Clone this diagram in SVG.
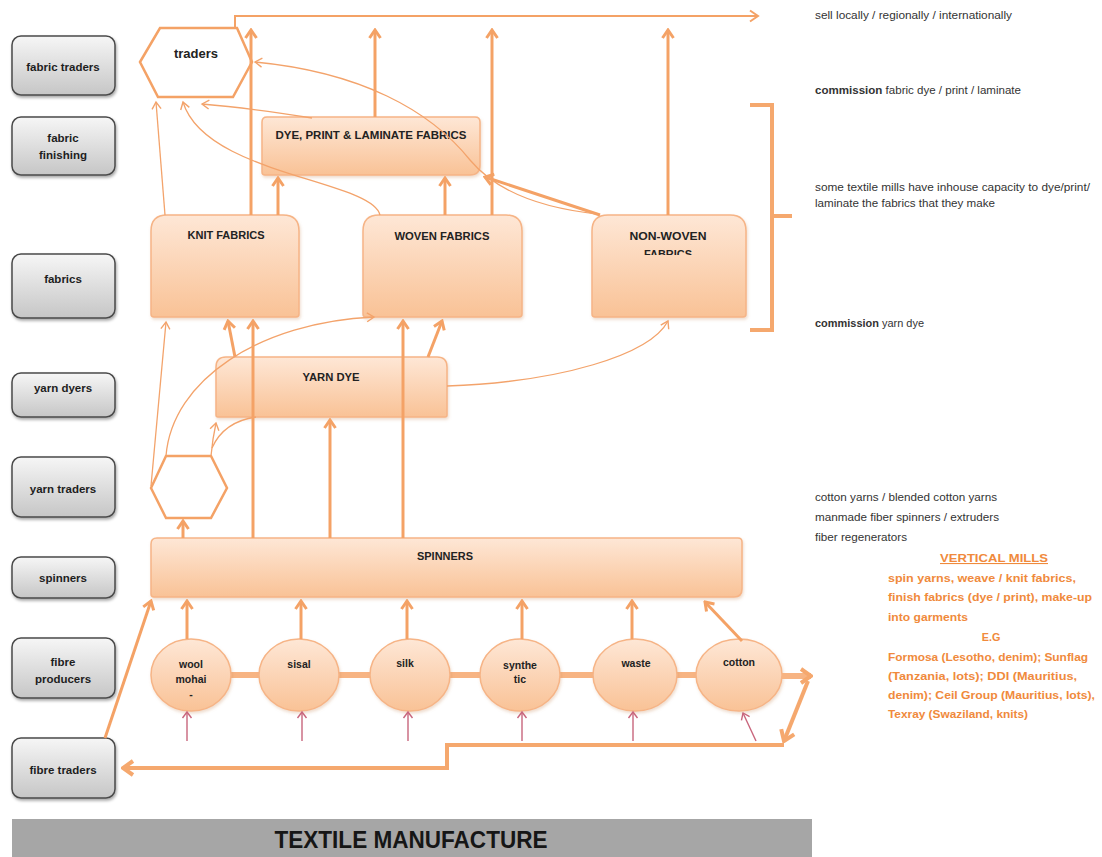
<svg xmlns="http://www.w3.org/2000/svg" width="1102" height="857" viewBox="0 0 1102 857">
  <defs>
    <linearGradient id="gGray" x1="0" y1="0" x2="0" y2="1">
      <stop offset="0" stop-color="#f6f6f6"/>
      <stop offset="1" stop-color="#c6c6c6"/>
    </linearGradient>
    <linearGradient id="gPeach" x1="0" y1="0" x2="0" y2="1">
      <stop offset="0" stop-color="#fee7d6"/>
      <stop offset="1" stop-color="#f9c296"/>
    </linearGradient>
    <filter id="shGray" x="-10%" y="-10%" width="125%" height="135%">
      <feDropShadow dx="1" dy="2" stdDeviation="1.5" flood-color="#000" flood-opacity="0.35"/>
    </filter>
    <filter id="shPeach" x="-10%" y="-10%" width="125%" height="135%">
      <feDropShadow dx="1" dy="2" stdDeviation="1.5" flood-color="#c98a5a" flood-opacity="0.3"/>
    </filter>
    <clipPath id="clipNW">
      <rect x="592" y="215" width="154" height="40"/>
    </clipPath>
    <marker id="ahThick" markerUnits="userSpaceOnUse" viewBox="-12 -8 14 16" refX="0" refY="0" markerWidth="14" markerHeight="16" orient="auto">
      <path d="M-8,-5.5 L0,0 L-8,5.5" fill="none" stroke="#f4a266" stroke-width="3"/>
    </marker>
    <marker id="ahThin" markerUnits="userSpaceOnUse" viewBox="-10 -6 12 12" refX="0" refY="0" markerWidth="12" markerHeight="12" orient="auto">
      <path d="M-7,-4.5 L0,0 L-7,4.5" fill="none" stroke="#f3a36b" stroke-width="1.4"/>
    </marker>
    <marker id="ahBig" markerUnits="userSpaceOnUse" viewBox="-14 -10 16 20" refX="0" refY="0" markerWidth="16" markerHeight="20" orient="auto">
      <path d="M-10,-7 L0,0 L-10,7" fill="none" stroke="#f5a86e" stroke-width="4"/>
    </marker>
    <marker id="ahTop" markerUnits="userSpaceOnUse" viewBox="-12 -8 14 16" refX="0" refY="0" markerWidth="14" markerHeight="16" orient="auto">
      <path d="M-8,-5.5 L0,0 L-8,5.5" fill="none" stroke="#f4a266" stroke-width="2"/>
    </marker>
    <marker id="ahPink" markerUnits="userSpaceOnUse" viewBox="-10 -6 12 12" refX="0" refY="0" markerWidth="12" markerHeight="12" orient="auto">
      <path d="M-6,-4.5 L0,0 L-6,4.5" fill="none" stroke="#c8657c" stroke-width="1.4"/>
    </marker>
  </defs>
  <style>
    text { font-family: "Liberation Sans", Arial, sans-serif; }
    .side rect { fill: url(#gGray); stroke: #4a4a4a; stroke-width: 1.5; filter: url(#shGray); }
    .side text { font-size: 11.5px; font-weight: bold; fill: #1e1e1e; text-anchor: middle; }
    .node { fill: url(#gPeach); stroke: #f6b486; stroke-width: 1.5; filter: url(#shPeach); }
    .hex { fill: #ffffff; stroke: #f4a266; stroke-width: 2.5; }
    .lbl { font-size: 11px; font-weight: bold; fill: #222; text-anchor: middle; }
    .clbl { font-size: 10.5px; font-weight: bold; fill: #222; text-anchor: middle; }
    .thick { fill: none; stroke: #f4a266; stroke-width: 3; marker-end: url(#ahThick); }
    .thin { fill: none; stroke: #f3a36b; stroke-width: 1.3; }
    .thinA { fill: none; stroke: #f3a36b; stroke-width: 1.3; marker-end: url(#ahThin); }
    .chain { fill: none; stroke: #f7b483; stroke-width: 6; }
    .route { fill: none; stroke: #f5a86e; stroke-width: 4; }
    .pink { fill: none; stroke: #c8657c; stroke-width: 1.4; marker-end: url(#ahPink); }
    .note { font-size: 10.5px; fill: #333; }
    .vm { font-size: 10.8px; font-weight: bold; fill: #f08a3c; }
  </style>

  <rect width="1102" height="857" fill="#ffffff"/>

  <!-- row labels down the left side -->
  <g class="side">
    <g id="lbl-fabric-traders"><rect x="12" y="36" width="103" height="59" rx="9"/><text x="63" y="71">fabric traders</text></g>
    <g id="lbl-fabric-finishing"><rect x="12" y="117" width="103" height="58" rx="9"/><text x="63" y="142">fabric</text><text x="63" y="159">finishing</text></g>
    <g id="lbl-fabrics"><rect x="12" y="254" width="103" height="64" rx="9"/><text x="63" y="283">fabrics</text></g>
    <g id="lbl-yarn-dyers"><rect x="12" y="373" width="103" height="44" rx="9"/><text x="63" y="392">yarn dyers</text></g>
    <g id="lbl-yarn-traders"><rect x="12" y="457" width="103" height="60" rx="9"/><text x="63" y="493">yarn traders</text></g>
    <g id="lbl-spinners"><rect x="12" y="557" width="103" height="41" rx="9"/><text x="63" y="582">spinners</text></g>
    <g id="lbl-fibre-producers"><rect x="12" y="638" width="103" height="60" rx="9"/><text x="63" y="666">fibre</text><text x="63" y="683">producers</text></g>
    <g id="lbl-fibre-traders"><rect x="12" y="738" width="103" height="60" rx="9"/><text x="63" y="774">fibre traders</text></g>
  </g>

  <!-- process nodes -->
  <g id="traders">
    <polygon class="hex" points="140,62 160,28 237,28 252,62 233,97 158,97"/>
    <text x="196" y="58" font-size="13" font-weight="bold" fill="#222" text-anchor="middle">traders</text>
  </g>
  <g id="dye-print-laminate">
    <path class="node" d="M262,122 Q262,117 267,117 H475 Q480,117 480,122 V165 Q480,175 470,175 H265 Q262,175 262,172 Z"/>
    <text class="lbl" x="371" y="139" textLength="191" lengthAdjust="spacingAndGlyphs">DYE, PRINT &amp; LAMINATE FABRICS</text>
  </g>
  <g id="knit-fabrics">
    <path class="node" d="M151,314 V231 Q151,215 167,215 H283 Q299,215 299,231 V314 Q299,317 296,317 H154 Q151,317 151,314 Z"/>
    <text class="lbl" x="226" y="239" textLength="77" lengthAdjust="spacingAndGlyphs">KNIT FABRICS</text>
  </g>
  <g id="woven-fabrics">
    <path class="node" d="M363,314 V231 Q363,215 379,215 H506 Q522,215 522,231 V314 Q522,317 519,317 H366 Q363,317 363,314 Z"/>
    <text class="lbl" x="442" y="240" textLength="95" lengthAdjust="spacingAndGlyphs">WOVEN FABRICS</text>
  </g>
  <g id="non-woven-fabrics">
    <path class="node" d="M592,314 V231 Q592,215 608,215 H730 Q746,215 746,231 V314 Q746,317 743,317 H595 Q592,317 592,314 Z"/>
    <text class="lbl" x="668" y="240" textLength="77" lengthAdjust="spacingAndGlyphs">NON-WOVEN</text>
    <text class="lbl" x="668" y="258" clip-path="url(#clipNW)" textLength="48" lengthAdjust="spacingAndGlyphs">FABRICS</text>
  </g>
  <g id="yarn-dye">
    <path class="node" d="M216,415 V367 Q216,357 226,357 H437 Q447,357 447,367 V415 Q447,417 445,417 H218 Q216,417 216,415 Z"/>
    <text class="lbl" x="331" y="381" textLength="57" lengthAdjust="spacingAndGlyphs">YARN DYE</text>
  </g>
  <g id="yarn-traders">
    <polygon class="hex" points="151,488 166,456 211,456 227,488 211,518 166,518" stroke-width="2"/>
  </g>
  <g id="spinners">
    <path class="node" d="M151,594 V544 Q151,538 157,538 H738 Q742,538 742,542 V589 Q742,597 734,597 H154 Q151,597 151,594 Z"/>
    <text class="lbl" x="445" y="560" textLength="56" lengthAdjust="spacingAndGlyphs">SPINNERS</text>
  </g>

  <!-- fibre chain between producers (drawn between circles) -->
  <g id="fibre-chain">
    <path class="chain" d="M229,675 H261 M337,675 H372 M448,675 H482 M558,675 H595 M675,675 H698"/>
  </g>

  <g id="fibre-wool">
    <ellipse class="node" cx="191" cy="675" rx="40" ry="36"/>
    <text class="clbl" x="191" y="668">wool</text>
    <text class="clbl" x="191" y="683">mohai</text>
    <text class="clbl" x="191" y="698">-</text>
  </g>
  <g id="fibre-sisal">
    <ellipse class="node" cx="299" cy="675" rx="40" ry="36"/>
    <text class="clbl" x="299" y="668">sisal</text>
  </g>
  <g id="fibre-silk">
    <ellipse class="node" cx="410" cy="675" rx="40" ry="36"/>
    <text class="clbl" x="405" y="667">silk</text>
  </g>
  <g id="fibre-synthetic">
    <ellipse class="node" cx="520" cy="675" rx="40" ry="36"/>
    <text class="clbl" x="520" y="669">synthe</text>
    <text class="clbl" x="520" y="683">tic</text>
  </g>
  <g id="fibre-waste">
    <ellipse class="node" cx="635" cy="675" rx="42" ry="36"/>
    <text class="clbl" x="636" y="667">waste</text>
    <text class="clbl" x="636" y="667" opacity="0"> </text>
  </g>
  <g id="fibre-cotton">
    <ellipse class="node" cx="739" cy="675" rx="43" ry="36"/>
    <text class="clbl" x="739" y="666">cotton</text>
  </g>

  <!-- connectors -->
  <g id="connectors">
    <!-- out to market -->
    <path d="M235,28 V16 H758" fill="none" stroke="#f4a266" stroke-width="2" marker-end="url(#ahTop)"/>
    <path class="thick" d="M251,215 V30"/>
    <path class="thick" d="M375,117 V30"/>
    <path class="thick" d="M492,215 V30"/>
    <path class="thick" d="M668,215 V30"/>
    <!-- fabrics to finishing -->
    <path class="thick" d="M278,215 V178"/>
    <path class="thick" d="M445,215 V178"/>
    <path class="thick" d="M600,215 L485,177"/>
    <!-- yarn to fabrics -->
    <path class="thick" d="M235,357 L228,321"/>
    <path class="thick" d="M428,357 L442,321"/>
    <path class="thick" d="M253,538 V321"/>
    <path class="thick" d="M330,538 V420"/>
    <path class="thick" d="M403,538 V321"/>
    <path class="thick" d="M183,538 V521" stroke-width="2"/>
    <!-- fibre to spinners -->
    <path class="thick" d="M105,738 L151,601"/>
    <path class="thick" d="M187,639 V601"/>
    <path class="thick" d="M301,639 V601"/>
    <path class="thick" d="M407,639 V601"/>
    <path class="thick" d="M522,639 V601"/>
    <path class="thick" d="M632,639 V601"/>
    <path class="thick" d="M742,641 L705,602"/>
    <!-- fibre trade loop -->
    <path class="chain" d="M782,676 H811" marker-end="url(#ahBig)" stroke="#f5a86e" stroke-width="4"/>
    <path class="route" d="M808,681 L784,741" marker-end="url(#ahBig)"/>
    <path class="route" d="M784,745 H447 V768 H123" marker-end="url(#ahBig)"/>
    <!-- thin trade links -->
    <path class="thinA" d="M165,215 L156,102"/>
    <path class="thinA" d="M380,215 C372,180 205,175 183,102"/>
    <path class="thinA" d="M312,118 Q250,108 202,104"/>
    <path class="thinA" d="M598,214 C540,208 495,190 470,160 C430,110 360,72 255,62"/>
    <path class="thinA" d="M151,486 L166,322"/>
    <path class="thinA" d="M166,456 C172,380 260,322 374,317"/>
    <path class="thinA" d="M211,456 C212,445 214,432 216,423"/>
    <path class="thin" d="M212,448 C220,430 235,420 256,417"/>
    <path class="thinA" d="M447,386 C560,382 650,355 668,321"/>
    <!-- raw material inputs -->
    <path class="pink" d="M187,741 V712"/>
    <path class="pink" d="M302,741 V712"/>
    <path class="pink" d="M408,741 V712"/>
    <path class="pink" d="M522,741 V712"/>
    <path class="pink" d="M633,741 V712"/>
    <path class="pink" d="M756,741 L743,713"/>
  </g>

  <!-- bracket for finishing notes -->
  <path id="bracket" d="M750,105 H772 V330 H750 M772,216 H792" fill="none" stroke="#f5a86e" stroke-width="4"/>

  <!-- notes -->
  <g id="notes">
    <text class="note" x="815" y="19" textLength="197" lengthAdjust="spacingAndGlyphs">sell locally / regionally / internationally</text>
    <text class="note" x="815" y="94" textLength="206" lengthAdjust="spacingAndGlyphs"><tspan font-weight="bold">commission</tspan> fabric dye / print / laminate</text>
    <text class="note" x="815" y="191" textLength="275" lengthAdjust="spacingAndGlyphs">some textile mills have inhouse capacity to dye/print/</text>
    <text class="note" x="815" y="207" textLength="180" lengthAdjust="spacingAndGlyphs">laminate the fabrics that they make</text>
    <text class="note" x="815" y="327" textLength="109" lengthAdjust="spacingAndGlyphs"><tspan font-weight="bold">commission</tspan> yarn dye</text>
    <text class="note" x="815" y="501" textLength="182" lengthAdjust="spacingAndGlyphs">cotton yarns / blended cotton yarns</text>
    <text class="note" x="815" y="521" textLength="184" lengthAdjust="spacingAndGlyphs">manmade fiber spinners / extruders</text>
    <text class="note" x="815" y="541" textLength="92" lengthAdjust="spacingAndGlyphs">fiber regenerators</text>
  </g>
  <g id="vertical-mills">
    <text class="vm" x="994" y="562" font-size="13" text-anchor="middle" text-decoration="underline" textLength="108" lengthAdjust="spacingAndGlyphs">VERTICAL MILLS</text>
    <text class="vm" x="888" y="582" textLength="188" lengthAdjust="spacingAndGlyphs">spin yarns, weave / knit fabrics,</text>
    <text class="vm" x="888" y="601" textLength="204" lengthAdjust="spacingAndGlyphs">finish fabrics (dye / print), make-up</text>
    <text class="vm" x="888" y="621" textLength="80" lengthAdjust="spacingAndGlyphs">into garments</text>
    <text class="vm" x="991" y="641" text-anchor="middle">E.G</text>
    <text class="vm" x="888" y="661" textLength="200" lengthAdjust="spacingAndGlyphs">Formosa (Lesotho, denim); Sunflag</text>
    <text class="vm" x="888" y="680" textLength="189" lengthAdjust="spacingAndGlyphs">(Tanzania, lots); DDI (Mauritius,</text>
    <text class="vm" x="888" y="699" textLength="207" lengthAdjust="spacingAndGlyphs">denim); Ceil Group (Mauritius, lots),</text>
    <text class="vm" x="888" y="718" textLength="140" lengthAdjust="spacingAndGlyphs">Texray (Swaziland, knits)</text>
  </g>

  <!-- title bar -->
  <g id="title">
    <rect x="12" y="819" width="800" height="38" fill="#a6a6a6"/>
    <text x="411" y="848" font-size="23" font-weight="bold" fill="#161616" text-anchor="middle" textLength="273" lengthAdjust="spacingAndGlyphs">TEXTILE MANUFACTURE</text>
  </g>
</svg>
